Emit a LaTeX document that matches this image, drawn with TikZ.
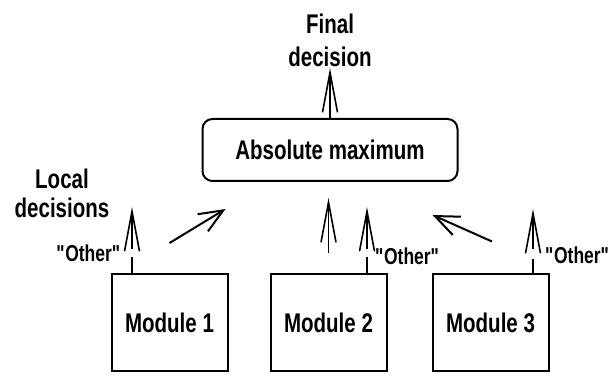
\documentclass[tikz,border=0pt]{standalone}
\usepackage{fontspec}
\setmainfont{Liberation Sans}[FakeStretch=0.76]
\usetikzlibrary{arrows.meta,positioning}

\begin{document}
\begin{tikzpicture}[x=1pt,y=1pt] % one unit is one pixel of the figure
\tikzset{every node/.style={font=\bfseries\fontsize{27}{33}\selectfont, align=center}} % bold narrow sans for all texts
\tikzset{module/.style={draw, line width=2pt, minimum width=116pt, minimum height=97pt, inner sep=0pt}}
\tikzset{maxbox/.style={draw, line width=2pt, rounded corners=10pt, minimum width=255pt, minimum height=62pt}}
\tikzset{tallarrow/.style={line width=1.6pt, -{Straight Barb[length=40pt,width=15pt]}}} % long narrow heads
\tikzset{widearrow/.style={line width=2pt, -{Straight Barb[length=24pt,width=20pt]}}} % slanted arrows
\tikzset{other/.style={font=\bfseries\fontsize{23}{23}\selectfont, inner sep=0pt}}
\useasboundingbox (0,0) rectangle (610,375);
\node[maxbox] (amax) at (330,225) {Absolute maximum};
\node[above=50pt of amax, inner sep=1pt] (final) {Final\\decision};
\draw[tallarrow] (amax) -- (final);
\node[font=\bfseries\fontsize{27}{29}\selectfont] (local) at (62,182) {Local\\decisions};
\node[module] (m1) at (169.5,52.5) {Module 1};
\node[module] (m2) at (328.5,52.5) {Module 2};
\node[module] (m3) at (490.5,52.5) {Module 3};
% "Other" outputs: short stub on the box, then a broken-off arrow
\coordinate (f1) at ([xshift=-37.5pt]m1.north);
\coordinate (f2) at ([xshift=38.5pt]m2.north);
\coordinate (f3) at ([xshift=42.5pt]m3.north);
\draw[line width=1.6pt] (f1) -- ([yshift=16pt]f1);
\draw[line width=1.6pt] (f2) -- ([yshift=16pt]f2);
\draw[line width=1.6pt] (f3) -- ([yshift=14pt]f3);
\draw[tallarrow] ([yshift=24pt]f1) -- ([yshift=66pt]f1);
\draw[tallarrow] ([yshift=24pt]f2) -- ([yshift=66pt]f2);
\draw[tallarrow] ([yshift=24pt]f3) -- ([yshift=64pt]f3);
\node[other, anchor=east] (o1) at ([shift={(-9pt,20pt)}]f1) {{\textquotedbl}\kern-2pt Other{\textquotedbl}};
\node[other, anchor=west] (o2) at ([shift={(8pt,16.5pt)}]f2) {{\textquotedbl}\kern-2pt Other{\textquotedbl}};
\node[other, anchor=west] (o3) at ([shift={(12pt,17.5pt)}]f3) {{\textquotedbl}\kern-2pt Other{\textquotedbl}};
% best local answers go up to the maximum
\draw[widearrow] ([yshift=30pt]m1.north) -- ([shift={(24pt,-27pt)}]amax.south west);
\draw[tallarrow] ([yshift=20pt]m2.north) -- ([yshift=75pt]m2.north);
\draw[widearrow] ([shift={(1.5pt,31.5pt)}]m3.north) -- ([shift={(-26pt,-33pt)}]amax.south east);
\end{tikzpicture}
\end{document}
